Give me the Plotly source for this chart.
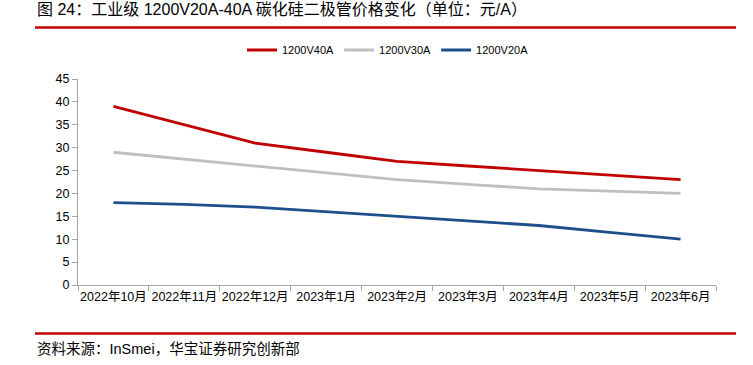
import plotly.graph_objects as go

categories = ["2022年10月", "2022年11月", "2022年12月", "2023年1月", "2023年2月",
              "2023年3月", "2023年4月", "2023年5月", "2023年6月"]
v40 = [39, 35, 31, 29, 27, 26, 25, 24, 23]
v30 = [29, 27.5, 26, 24.5, 23, 22, 21, 20.5, 20]
v20 = [18, 17.6, 17, 16, 15, 14, 13, 11.5, 10]
y_ticks = [0, 5, 10, 15, 20, 25, 30, 35, 40, 45]

W, H = 753, 365
L, R, T, B = 78, 37, 79, 80
pw, ph = W - L - R, H - T - B

def px(x):
    return (x - L) / pw

def py(y):
    return (H - B - y) / ph

fig = go.Figure()
for name, vals, col in [("1200V40A", v40, "#C00000"),
                        ("1200V30A", v30, "#BFBFBF"),
                        ("1200V20A", v20, "#1F4E8C")]:
    fig.add_trace(go.Scatter(x=categories, y=vals, name=name, mode="lines",
                             line=dict(color=col, width=2.8)))

base_font = "Liberation Sans, Arial, Noto Sans CJK SC, sans-serif"
fig.update_layout(
    width=W, height=H,
    margin=dict(l=L, r=R, t=T, b=B, autoexpand=False),
    paper_bgcolor="white", plot_bgcolor="white",
    font=dict(family=base_font, size=12, color="#000000"),
    showlegend=True,
    legend=dict(orientation="h", x=px(388), xanchor="center", y=py(50), yanchor="middle",
                font=dict(size=11, family=base_font), itemwidth=30,
                tracegroupgap=0),
    xaxis=dict(range=[-0.5, len(categories) - 0.5], showline=True, linecolor="#A6A6A6",
               linewidth=1, ticks="outside", tickson="boundaries", ticklen=5,
               tickcolor="#A6A6A6", showgrid=False, zeroline=False, tickangle=0,
               tickfont=dict(size=12.5, family=base_font)),
    yaxis=dict(range=[0, 45], tickvals=y_ticks, showline=True, linecolor="#A6A6A6",
               linewidth=1, ticks="outside", ticklen=5, tickcolor="#A6A6A6",
               showgrid=False, zeroline=False,
               tickfont=dict(size=12.5, family=base_font)),
)

fig.add_annotation(xref="paper", yref="paper", x=px(35), y=py(10), xanchor="left",
                   yanchor="middle", showarrow=False,
                   text="图 24：工业级 1200V20A-40A 碳化硅二极管价格变化（单位：元/A）",
                   font=dict(size=16, family="Liberation Sans, Noto Sans CJK SC, sans-serif"))
fig.add_annotation(xref="paper", yref="paper", x=px(35), y=py(349), xanchor="left",
                   yanchor="middle", showarrow=False,
                   text="资料来源：InSmei，华宝证券研究创新部",
                   font=dict(size=14.5, family="Liberation Sans, Noto Sans CJK SC, sans-serif"))
for yy in (27.5, 333.5):
    fig.add_shape(type="line", xref="paper", yref="paper", x0=px(35), x1=px(736),
                  y0=py(yy), y1=py(yy), line=dict(color="#C00000", width=2.5))

fig.write_html("out.html", config={"displayModeBar": False},
               post_script="document.body.style.margin='0';document.body.style.padding='0';")
